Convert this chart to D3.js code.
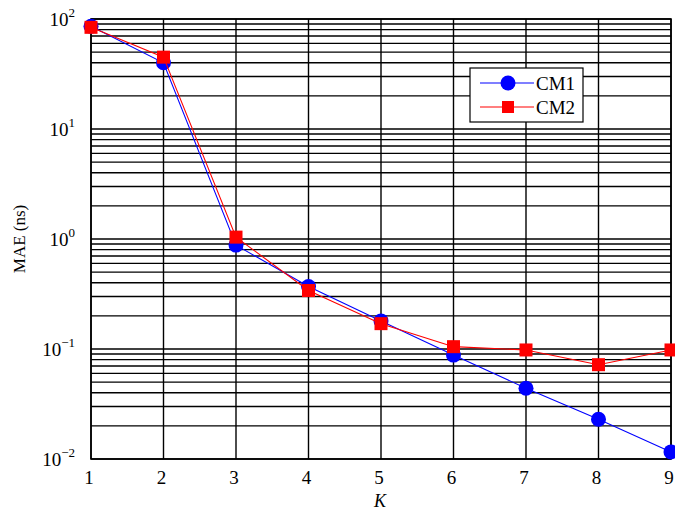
<!DOCTYPE html>
<html>
<head>
<meta charset="utf-8">
<script src="https://cdn.jsdelivr.net/npm/d3@7"></script>
<style>
  body { margin: 0; background: #fff; }
  svg text { font-family: "Liberation Serif", "DejaVu Serif", serif; fill: #000; }
</style>
</head>
<body>
<svg width="675" height="513"></svg>
<script>
  // data
  var kValues = [1, 2, 3, 4, 5, 6, 7, 8, 9];
  var cm1 = [86, 40, 0.88, 0.37, 0.18, 0.088, 0.044, 0.023, 0.0116];
  var cm2 = [84, 45, 1.04, 0.34, 0.17, 0.105, 0.098, 0.072, 0.098];
  var yTickExp = [-2, -1, 0, 1, 2];

  var svg = d3.select("svg");
  var pLeft = 91, pRight = 671, pTop = 19, pBottom = 459;

  var x = d3.scaleLinear().domain([1, 9]).range([pLeft, pRight]);
  var y = d3.scaleLog().domain([0.01, 100]).range([pBottom, pTop]);

  // horizontal grid, major + minor
  var gridVals = [];
  for (var e = -2; e < 2; e++) {
    for (var m = 1; m <= 9; m++) gridVals.push(m * Math.pow(10, e));
  }
  gridVals.push(100);

  svg.append("g").selectAll("line")
    .data(gridVals)
    .enter().append("line")
    .attr("x1", pLeft).attr("x2", pRight)
    .attr("y1", function(d) { return y(d); })
    .attr("y2", function(d) { return y(d); })
    .attr("stroke", "#000").attr("stroke-width", 1.4);

  svg.append("g").selectAll("line")
    .data(kValues)
    .enter().append("line")
    .attr("x1", function(d) { return x(d); })
    .attr("x2", function(d) { return x(d); })
    .attr("y1", pTop).attr("y2", pBottom)
    .attr("stroke", "#000").attr("stroke-width", 1.4);

  svg.append("rect")
    .attr("x", pLeft).attr("y", pTop)
    .attr("width", pRight - pLeft).attr("height", pBottom - pTop)
    .attr("fill", "none").attr("stroke", "#000").attr("stroke-width", 1.6);

  // y tick labels
  var yl = svg.append("g");
  yTickExp.forEach(function(p) {
    var t = yl.append("text")
      .attr("x", pLeft - 16).attr("y", y(Math.pow(10, p)) + 7)
      .attr("text-anchor", "end")
      .style("font-size", "19px");
    t.append("tspan").text("10");
    t.append("tspan").attr("dy", -9).style("font-size", "13px")
      .text(p < 0 ? "\u2212" + (-p) : p);
  });

  // x tick labels
  svg.append("g").selectAll("text")
    .data(kValues)
    .enter().append("text")
    .attr("x", function(d) { return x(d) - 2; })
    .attr("y", 484)
    .attr("text-anchor", "middle")
    .style("font-size", "19px")
    .text(function(d) { return d; });

  svg.append("text")
    .attr("x", 380).attr("y", 507)
    .attr("text-anchor", "middle")
    .style("font-size", "18px").style("font-style", "italic")
    .text("K");

  svg.append("text")
    .attr("transform", "translate(25," + ((pTop + pBottom) / 2) + ") rotate(-90)")
    .attr("text-anchor", "middle")
    .style("font-size", "17px")
    .text("MAE (ns)");

  var line = d3.line()
    .x(function(d, i) { return x(kValues[i]); })
    .y(function(d) { return y(d); });

  // CM1
  svg.append("path").datum(cm1)
    .attr("d", line).attr("fill", "none")
    .attr("stroke", "#0000ff").attr("stroke-width", 1.1);
  svg.append("g").selectAll("circle")
    .data(cm1).enter().append("circle")
    .attr("cx", function(d, i) { return x(kValues[i]); })
    .attr("cy", function(d) { return y(d); })
    .attr("r", 7.5).attr("fill", "#0000ff");

  // CM2
  svg.append("path").datum(cm2)
    .attr("d", line).attr("fill", "none")
    .attr("stroke", "#ff0000").attr("stroke-width", 1.1);
  svg.append("g").selectAll("rect")
    .data(cm2).enter().append("rect")
    .attr("x", function(d, i) { return x(kValues[i]) - 6.5; })
    .attr("y", function(d) { return y(d) - 6.5; })
    .attr("width", 13).attr("height", 13).attr("fill", "#ff0000");

  // legend
  var lg = svg.append("g");
  lg.append("rect")
    .attr("x", 470).attr("y", 68).attr("width", 113).attr("height", 54)
    .attr("fill", "#fff").attr("stroke", "#000").attr("stroke-width", 1.2);
  lg.append("line").attr("x1", 480).attr("x2", 534).attr("y1", 83).attr("y2", 83)
    .attr("stroke", "#0000ff").attr("stroke-width", 1.1);
  lg.append("circle").attr("cx", 508).attr("cy", 83).attr("r", 7.5).attr("fill", "#0000ff");
  lg.append("line").attr("x1", 480).attr("x2", 534).attr("y1", 107).attr("y2", 107)
    .attr("stroke", "#ff0000").attr("stroke-width", 1.1);
  lg.append("rect").attr("x", 502).attr("y", 101).attr("width", 12).attr("height", 12).attr("fill", "#ff0000");
  lg.append("text").attr("x", 536).attr("y", 90).style("font-size", "19px").text("CM1");
  lg.append("text").attr("x", 536).attr("y", 114).style("font-size", "19px").text("CM2");
</script>
</body>
</html>
